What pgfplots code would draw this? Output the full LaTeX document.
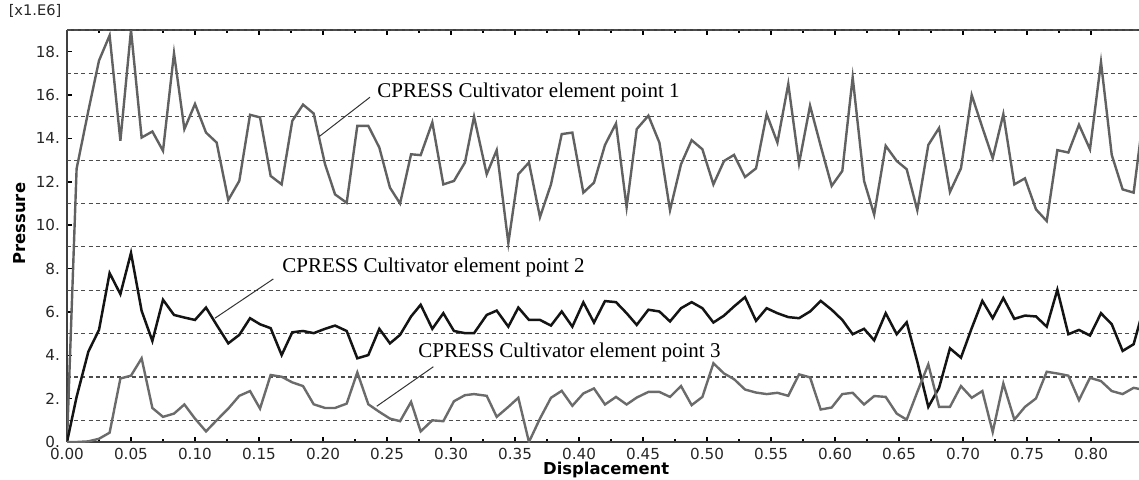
\documentclass[border=0pt]{standalone}
\usepackage{pgfplots}
\usepackage{pgfplotstable}
\pgfplotsset{compat=1.18}
\usepackage{fontspec}
\setmainfont{Liberation Serif}
\newfontfamily\dv{DejaVu Sans}

% pressure vs displacement, three points (x1e6)
\pgfplotstableread{
x      p1     p2    p3
0.0000 0.00   0.00  0.00
0.0075 12.60  2.08  0.00
0.0167 15.28  4.17  0.03
0.0250 17.59  5.17  0.15
0.0333 18.75  7.79  0.43
0.0417 13.89  6.82  2.93
0.0500 19.00  8.72  3.06
0.0583 14.04  6.05  3.86
0.0667 14.32  4.66  1.57
0.0750 13.43  6.56  1.16
0.0836 17.93  5.86  1.31
0.0917 14.43  5.74  1.73
0.1000 15.59  5.63  1.08
0.1086 14.27  6.20  0.49
0.1169 13.81  5.40  1.00
0.1260 11.16  4.55  1.54
0.1346 12.04  4.94  2.13
0.1430 15.09  5.71  2.35
0.1508 14.97  5.43  1.54
0.1591 12.27  5.25  3.09
0.1677 11.88  4.01  3.01
0.1760 14.81  5.06  2.75
0.1844 15.56  5.12  2.58
0.1927 15.15  5.02  1.74
0.2016 12.81  5.22  1.57
0.2094 11.42  5.37  1.57
0.2185 11.03  5.12  1.77
0.2268 14.58  3.86  3.21
0.2354 14.58  4.01  1.74
0.2440 13.58  5.22  1.39
0.2523 11.73  4.55  1.08
0.2602 11.00  4.94  0.96
0.2688 13.27  5.79  1.85
0.2763 13.23  6.33  0.49
0.2854 14.74  5.22  1.00
0.2940 11.88  5.94  0.96
0.3023 12.04  5.12  1.88
0.3109 12.89  5.02  2.16
0.3180 15.00  5.02  2.21
0.3279 12.35  5.86  2.13
0.3357 13.46  6.06  1.16
0.3448 9.18   5.32  1.62
0.3526 12.35  6.20  2.04
0.3609 12.89  5.63  0.00
0.3695 10.37  5.63  1.08
0.3781 11.88  5.37  2.04
0.3865 14.20  6.02  2.36
0.3948 14.27  5.32  1.67
0.4034 11.50  6.44  2.24
0.4117 11.96  5.51  2.47
0.4203 13.70  6.50  1.73
0.4289 14.69  6.45  2.08
0.4372 10.83  5.94  1.73
0.4451 14.43  5.40  2.05
0.4542 15.05  6.10  2.31
0.4628 13.81  6.02  2.31
0.4711 10.69  5.56  2.08
0.4797 12.81  6.17  2.58
0.4880 13.92  6.45  1.70
0.4964 13.50  6.17  2.08
0.5050 11.88  5.51  3.63
0.5133 12.96  5.83  3.16
0.5211 13.24  6.25  2.90
0.5297 12.22  6.68  2.42
0.5383 12.62  5.59  2.28
0.5466 15.12  6.17  2.21
0.5550 13.81  5.94  2.27
0.5635 16.51  5.76  2.13
0.5719 12.84  5.71  3.12
0.5805 15.51  6.02  2.98
0.5888 13.66  6.51  1.50
0.5974 11.81  6.10  1.59
0.6057 12.50  5.63  2.21
0.6138 16.82  4.97  2.27
0.6227 12.04  5.22  1.73
0.6306 10.49  4.69  2.12
0.6396 13.66  5.94  2.08
0.6482 12.96  4.97  1.31
0.6560 12.58  5.52  1.03
0.6643 10.69  3.70  2.31
0.6729 13.70  1.62  3.58
0.6813 14.48  2.50  1.62
0.6898 11.53  4.32  1.62
0.6984 12.62  3.89  2.58
0.7068 16.00  5.25  2.04
0.7151 14.51  6.51  2.35
0.7232 13.09  5.71  0.46
0.7315 15.12  6.64  2.70
0.7401 11.88  5.68  1.03
0.7484 12.16  5.83  1.62
0.7570 10.73  5.79  2.01
0.7654 10.19  5.32  3.24
0.7737 13.46  7.02  3.16
0.7823 13.35  4.97  3.06
0.7906 14.63  5.17  1.93
0.7992 13.50  4.91  2.96
0.8078 17.52  5.94  2.81
0.8162 13.24  5.43  2.35
0.8247 11.65  4.20  2.21
0.8333 11.50  4.51  2.50
0.8417 15.40  6.30  2.40
}\pressdata

\begin{document}
\begin{tikzpicture}
\useasboundingbox (-33.5pt,-18.5pt) rectangle (536pt,221pt);
\begin{axis}[
    scale only axis,
    width=536pt, height=206pt,
    xmin=0, xmax=0.8375,
    ymin=0, ymax=19,
    axis x line=box,
    axis y line*=left,
    axis line style={black!75, line width=0.8pt},
    tick align=inside,
    major tick length=2.5pt,
    minor tick length=1.5pt,
    tick style={black, line width=0.7pt},
    xtick={0,0.05,0.1,0.15,0.2,0.25,0.3,0.35,0.4,0.45,0.5,0.55,0.6,0.65,0.7,0.75,0.8},
    xticklabels={0.00,0.05,0.10,0.15,0.20,0.25,0.30,0.35,0.40,0.45,0.50,0.55,0.60,0.65,0.70,0.75,0.80},
    minor x tick num=1,
    ytick={0,2,...,18},
    yticklabels={0.,2.,4.,6.,8.,10.,12.,14.,16.,18.},
    ticklabel style={font=\dv\fontsize{7.6}{8}\selectfont, text=black!85},
    xticklabel style={yshift=0.3pt},
    extra y ticks={1,3,5,7,9,11,13,15,17,19},
    extra y tick labels={},
    extra y tick style={grid=major, major tick length=0pt,
        major grid style={black!70, line width=0.55pt, dash pattern=on 2pt off 1.6pt}},
    xlabel={Displacement},
    ylabel={Pressure},
    label style={font=\dv\bfseries\fontsize{8.2}{9}\selectfont},
    xlabel style={at={(axis description cs:0.503,-0.068)}, anchor=center},
    ylabel style={at={(axis description cs:-0.0445,0.53)}, anchor=center},
    clip=true,
]
\addplot[color=black!62, line width=1.2pt] table[x=x, y=p1] {\pressdata};
\addplot[color=black!92, line width=1.25pt] table[x=x, y=p2] {\pressdata};
\addplot[color=black!58, line width=1.2pt] table[x=x, y=p3] {\pressdata};

\draw[black!80, line width=0.5pt] (axis cs:0.2367,15.90) -- (axis cs:0.1971,14.09);
\draw[black!80, line width=0.5pt] (axis cs:0.1612,7.52) -- (axis cs:0.1156,5.71);
\draw[black!80, line width=0.5pt] (axis cs:0.2862,3.47) -- (axis cs:0.2420,1.65);

\node[anchor=west, inner sep=0pt, font=\fontsize{10.5}{12}\selectfont] at (axis cs:0.2422,16.14) {CPRESS Cultivator element point 1};
\node[anchor=west, inner sep=0pt, font=\fontsize{10.5}{12}\selectfont] at (axis cs:0.1680,8.04) {CPRESS Cultivator element point 2};
\node[anchor=west, inner sep=0pt, font=\fontsize{10.5}{12}\selectfont] at (axis cs:0.2742,4.15) {CPRESS Cultivator element point 3};
\end{axis}
\node[font=\dv\fontsize{7.3}{8}\selectfont, text=black!85] at (-16pt,215.5pt) {[x1.E6]};
\end{tikzpicture}
\end{document}
